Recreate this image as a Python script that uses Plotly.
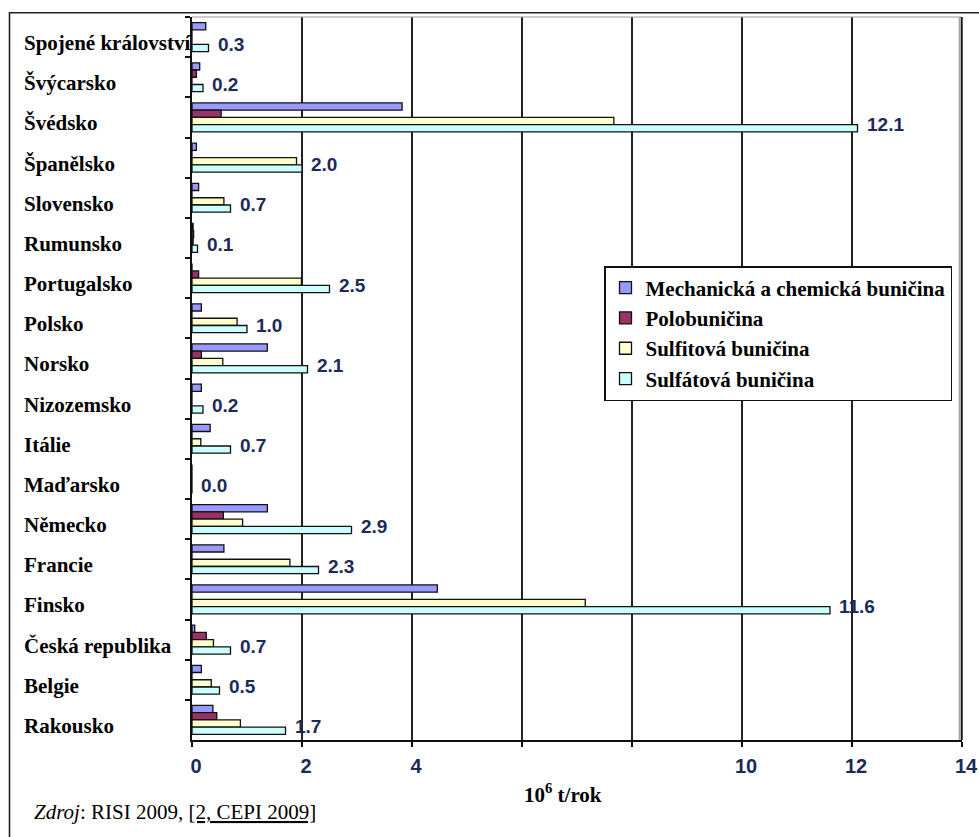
import plotly.graph_objects as go

# Pulp production by country and pulp type (10^6 t/year)
countries = [
    "Spojené království", "Švýcarsko", "Švédsko", "Španělsko", "Slovensko",
    "Rumunsko", "Portugalsko", "Polsko", "Norsko", "Nizozemsko", "Itálie",
    "Maďarsko", "Německo", "Francie", "Finsko", "Česká republika", "Belgie",
    "Rakousko",
]
mechanical = [0.25, 0.14, 3.82, 0.08, 0.12, 0.02, 0.0, 0.17, 1.37, 0.17, 0.33,
              0.0, 1.37, 0.58, 4.46, 0.05, 0.17, 0.38]
semichemical = [0.0, 0.08, 0.53, 0.0, 0.0, 0.03, 0.12, 0.0, 0.17, 0.0, 0.0,
                0.0, 0.57, 0.0, 0.0, 0.26, 0.0, 0.45]
sulfite = [0.0, 0.0, 7.67, 1.9, 0.58, 0.02, 1.99, 0.82, 0.56, 0.0, 0.16,
           0.0, 0.92, 1.78, 7.15, 0.39, 0.35, 0.88]
sulfate = [0.3, 0.2, 12.1, 2.0, 0.7, 0.1, 2.5, 1.0, 2.1, 0.2, 0.7,
           0.0, 2.9, 2.3, 11.6, 0.7, 0.5, 1.7]

series_names = [
    "Mechanická a chemická buničina",
    "Polobuničina",
    "Sulfitová buničina",
    "Sulfátová buničina",
]
series_values = [mechanical, semichemical, sulfite, sulfate]
series_colors = ["#9999FF", "#993366", "#FFFFCC", "#CCFFFF"]

# labelled ticks and the two unlabelled grid positions
x_tick_values = [0, 2, 4, 10, 12, 14]
x_tick_labels = ["0", "2", "4", "10", "12", "14"]
x_unlabelled_ticks = [6, 8]

# page geometry (pixels)
W, H = 979, 837
L, R, T, B = 192, 17, 17, 97
PW, PH = W - L - R, H - T - B


def px_x(p):
    return (p - L) / PW


def px_y(p):
    return (H - B - p) / PH


serif = "Liberation Serif, Times New Roman, serif"
sans = "Liberation Sans, Arial, sans-serif"
navy = "#1C2A5A"
grid_col = "#222222"

fig = go.Figure()
for i, (name, vals, col) in enumerate(zip(series_names, series_values, series_colors)):
    fig.add_trace(go.Bar(
        y=countries, x=vals, name=name, orientation="h",
        marker=dict(color=col, line=dict(color="#111111", width=1.3)),
        legendgroup=f"g{i}", hoverinfo="x+y+name",
    ))

annotations = []
# category labels, left aligned
for c in countries:
    annotations.append(dict(
        x=px_x(22), xref="paper", y=c, yref="y", xanchor="left", yanchor="middle",
        text=c, showarrow=False, yshift=-6,
        font=dict(family=serif, size=21, color="#000000", weight="bold"),
    ))
# value labels next to the sulfate bars
for c, v in zip(countries, sulfate):
    annotations.append(dict(
        x=v, xref="x", y=c, yref="y", xanchor="left", yanchor="middle",
        text=f"{v:.1f}", showarrow=False, xshift=7, yshift=-7,
        font=dict(family=sans, size=19, color=navy, weight="bold"),
    ))
# axis unit
annotations.append(dict(
    x=px_x(563), xref="paper", y=px_y(793), yref="paper",
    xanchor="center", yanchor="middle", showarrow=False,
    text="10<sup>6</sup> t/rok",
    font=dict(family=serif, size=21, color="#000000", weight="bold"),
))
# source note
annotations.append(dict(
    x=px_x(32), xref="paper", y=px_y(812), yref="paper",
    xanchor="left", yanchor="middle", showarrow=False,
    text="<i>Zdroj</i>: RISI 2009, <span style=\"text-decoration:underline\">[2, CEPI 2009]</span>",
    font=dict(family=serif, size=21, color="#000000"),
))

shapes = [
    # outer frame
    dict(type="rect", xref="paper", yref="paper",
         x0=px_x(9.5), x1=px_x(1000), y0=px_y(12.7), y1=px_y(870),
         line=dict(color="#222222", width=1.6), layer="above"),
    # plot area top edge
    dict(type="line", xref="paper", yref="paper",
         x0=0, x1=px_x(961), y0=1, y1=1,
         line=dict(color="#9A9A9A", width=1.2)),
    # plot area right edge with shadow
    dict(type="line", xref="paper", yref="paper",
         x0=px_x(959.3), x1=px_x(959.3), y0=0, y1=1,
         line=dict(color="#9A9A9A", width=1.2)),
    dict(type="line", xref="paper", yref="paper",
         x0=px_x(961.7), x1=px_x(961.7), y0=0, y1=1,
         line=dict(color="#111111", width=2)),
]

fig.update_layout(
    width=W, height=H,
    margin=dict(l=L, r=R, t=T, b=B, pad=0, autoexpand=False),
    paper_bgcolor="white", plot_bgcolor="white",
    barmode="group", bargap=0.28, bargroupgap=0,
    showlegend=True,
    legend=dict(
        x=px_x(604), y=px_y(266), xanchor="left", yanchor="top",
        bgcolor="white", bordercolor="#111111", borderwidth=1.5,
        font=dict(family=serif, size=21, color="#000000", weight="bold"),
        traceorder="grouped", tracegroupgap=0,
    ),
    annotations=annotations,
    shapes=shapes,
)
fig.update_xaxes(
    range=[0, 14], tickmode="array", tickvals=x_tick_values, ticktext=x_tick_labels,
    showgrid=True, gridcolor=grid_col, gridwidth=1.5, zeroline=False,
    showline=True, linecolor="#111111", linewidth=2,
    ticks="outside", ticklen=5, tickcolor="#111111", tickwidth=1.5,
    ticklabelshift=4, ticklabelstandoff=2,
    tickfont=dict(family=sans, size=20, color=navy, weight="bold"),
    minor=dict(tickmode="array", tickvals=x_unlabelled_ticks, showgrid=True,
               gridcolor=grid_col, gridwidth=1.5, ticks="outside", ticklen=5,
               tickcolor="#111111", tickwidth=1.5),
    automargin=False, fixedrange=True,
)
fig.update_yaxes(
    categoryorder="array", categoryarray=countries, autorange="reversed",
    showticklabels=False, showgrid=False, zeroline=False,
    showline=True, linecolor="#111111", linewidth=2,
    ticks="outside", tickson="boundaries", ticklen=5, tickcolor="#111111", tickwidth=1.5,
    automargin=False, fixedrange=True,
)

fig.write_html("out.html")
